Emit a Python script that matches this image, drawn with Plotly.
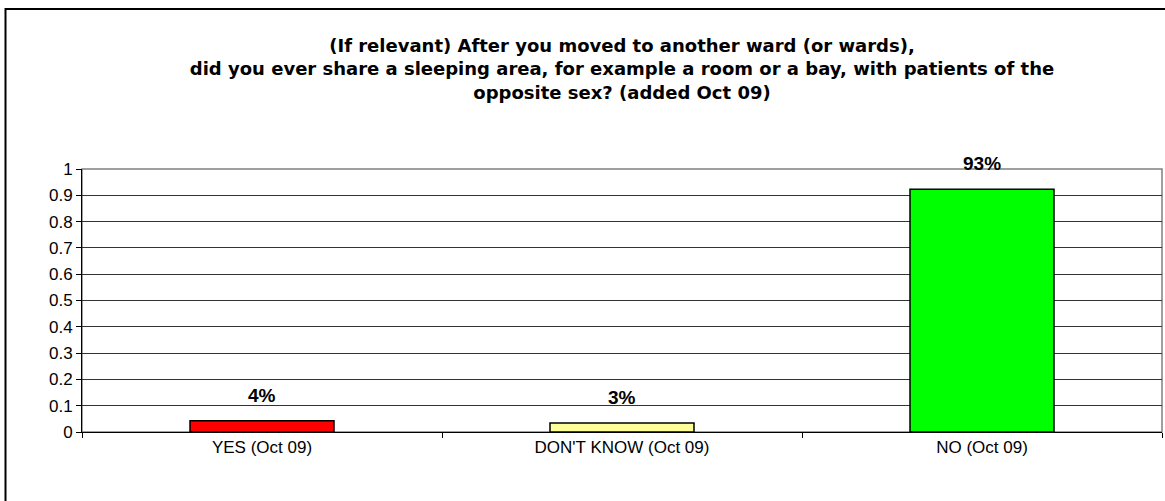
import plotly.graph_objects as go

categories = ["YES (Oct 09)", "DON'T KNOW (Oct 09)", "NO (Oct 09)"]
values = [0.043, 0.034, 0.923]
labels = ["4%", "3%", "93%"]
colors = ["#FF0000", "#FFFF99", "#00FF00"]
y_ticks = [0, 0.1, 0.2, 0.3, 0.4, 0.5, 0.6, 0.7, 0.8, 0.9, 1]
y_ticktext = ["0", "0.1", "0.2", "0.3", "0.4", "0.5", "0.6", "0.7", "0.8", "0.9", "1"]

title = ("(If relevant) After you moved to another ward (or wards),<br>"
         "did you ever share a sleeping area, for example a room or a bay, with patients of the<br>"
         "opposite sex? (added Oct 09)")

W, H = 1165, 501
L, R, T, B = 82, 3, 169, 69
pw, ph = W - L - R, H - T - B

def px(x):
    return (x - L) / pw

def py(y):
    return (H - B - y) / ph

fig = go.Figure(go.Bar(
    x=categories, y=values,
    marker=dict(color=colors, line=dict(color="black", width=1.5)),
    width=0.4,
))

for c, v, t in zip(categories, values, labels):
    fig.add_annotation(x=c, y=v, text=t, showarrow=False, yanchor="bottom", yshift=13,
                       font=dict(family="Liberation Sans, Arial", size=19, color="black", weight="bold"))

fig.update_layout(
    width=W, height=H,
    margin=dict(l=L, r=R, t=T, b=B),
    paper_bgcolor="white", plot_bgcolor="white",
    showlegend=False,
    font=dict(family="Liberation Sans, Arial", color="black"),
    title=dict(text=title, x=0.5, xref="paper", xanchor="center", y=1 - 52 / H, yanchor="top",
               font=dict(family="DejaVu Sans", size=18, color="black", weight="bold")),
    xaxis=dict(showline=True, linecolor="black", linewidth=1, ticks="outside", tickson="boundaries",
               ticklen=5, tickcolor="black", tickfont=dict(size=17), showgrid=False,
               range=[-0.5, 2.5]),
    yaxis=dict(range=[0, 1], tickvals=y_ticks, ticktext=y_ticktext, showline=True, linecolor="black",
               linewidth=1, ticks="outside", ticklen=5, tickcolor="black", tickfont=dict(size=17),
               showgrid=True, gridcolor="#333333", gridwidth=1, zeroline=False),
    shapes=[
        dict(type="rect", xref="paper", yref="paper", x0=0, x1=1, y0=0, y1=1,
             line=dict(color="#808080", width=1.5), layer="below"),
        dict(type="rect", xref="paper", yref="paper", x0=px(5.5), x1=px(1175), y0=py(9), y1=py(515),
             line=dict(color="black", width=2)),
    ],
)

fig.write_html("out.html", config={"displayModeBar": False},
               post_script="document.body.style.margin='0px';")
